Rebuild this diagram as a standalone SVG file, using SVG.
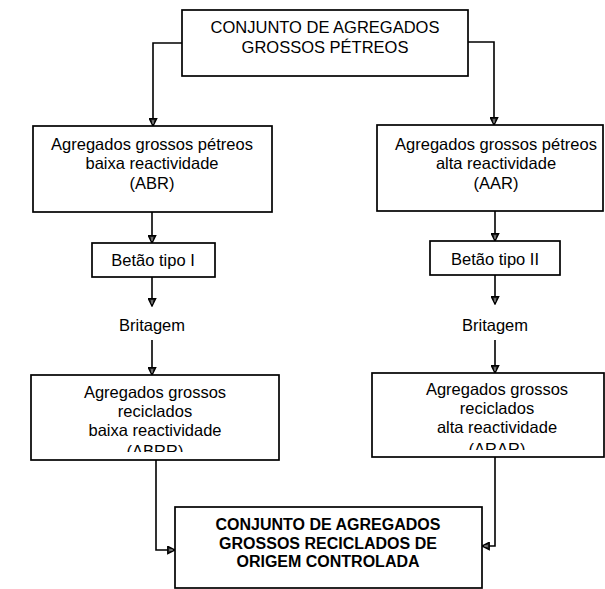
<svg xmlns="http://www.w3.org/2000/svg" width="605" height="589" viewBox="0 0 605 589">
<defs>
<style>
.box{fill:#fff;stroke:#000;stroke-width:1.7}
.t{font-family:"Liberation Sans",Arial,sans-serif;font-size:16.5px;fill:#000;text-anchor:middle}
.b{font-family:"Liberation Sans",Arial,sans-serif;font-size:16px;font-weight:bold;fill:#000;text-anchor:middle}
.c{fill:none;stroke:#000;stroke-width:1.6}
</style>
<marker id="ah" viewBox="0 0 10 10" refX="9" refY="5" markerWidth="9" markerHeight="9" markerUnits="userSpaceOnUse" orient="auto">
<path d="M1,1 L9,5 L1,9 Z" fill="#333" stroke="#000" stroke-width="1.6"/>
<path d="M2.5,5 L6.5,5" stroke="#bbb" stroke-width="1"/>
</marker>
<clipPath id="clipL"><rect x="31" y="375" width="248" height="77"/></clipPath>
<clipPath id="clipR"><rect x="372" y="373" width="232" height="77"/></clipPath>
</defs>
<rect width="605" height="589" fill="#fff"/>

<g id="connectors">
<path class="c" d="M182,43 H153 V126" marker-end="url(#ah)"/>
<path class="c" d="M468,42 H494 V125" marker-end="url(#ah)"/>
<path class="c" d="M152,212 V243" marker-end="url(#ah)"/>
<path class="c" d="M152,277 V306" marker-end="url(#ah)"/>
<path class="c" d="M152,340 V375" marker-end="url(#ah)"/>
<path class="c" d="M156,460 V550 H175" marker-end="url(#ah)"/>
<path class="c" d="M495,211 V241" marker-end="url(#ah)"/>
<path class="c" d="M495,275 V304" marker-end="url(#ah)"/>
<path class="c" d="M495,340 V373" marker-end="url(#ah)"/>
<path class="c" d="M495,457 V546 H482" marker-end="url(#ah)"/>
</g>

<g id="top">
<rect class="box" x="182" y="10" width="286" height="66"/>
<text class="t" x="325" y="33">CONJUNTO DE AGREGADOS</text>
<text class="t" x="325" y="53">GROSSOS PÉTREOS</text>
</g>

<g id="abr">
<rect class="box" x="33" y="126" width="239" height="86"/>
<text class="t" x="152" y="150">Agregados grossos pétreos</text>
<text class="t" x="152" y="169">baixa reactividade</text>
<text class="t" x="152" y="189">(ABR)</text>
</g>

<g id="aar">
<rect class="box" x="377" y="125" width="226" height="86"/>
<text class="t" x="496" y="150">Agregados grossos pétreos</text>
<text class="t" x="496" y="169">alta reactividade</text>
<text class="t" x="496" y="189">(AAR)</text>
</g>

<g id="betao1">
<rect class="box" x="92" y="243" width="123" height="34"/>
<text class="t" x="153" y="266">Betão tipo I</text>
</g>

<g id="betao2">
<rect class="box" x="430" y="241" width="130" height="34"/>
<text class="t" x="495" y="265">Betão tipo II</text>
</g>

<g id="britagem1">
<text class="t" x="152" y="331">Britagem</text>
</g>

<g id="britagem2">
<text class="t" x="495" y="331">Britagem</text>
</g>

<g id="abrr">
<rect class="box" x="31" y="375" width="248" height="85"/>
<g clip-path="url(#clipL)">
<text class="t" x="155" y="398">Agregados grossos</text>
<text class="t" x="155" y="417">reciclados</text>
<text class="t" x="155" y="436">baixa reactividade</text>
<text class="t" x="155" y="457">(ABRR)</text>
</g>
</g>

<g id="arar">
<rect class="box" x="372" y="373" width="232" height="84"/>
<g clip-path="url(#clipR)">
<text class="t" x="497" y="395">Agregados grossos</text>
<text class="t" x="497" y="414">reciclados</text>
<text class="t" x="497" y="433">alta reactividade</text>
<text class="t" x="497" y="455">(ARAR)</text>
</g>
</g>

<g id="final">
<rect class="box" x="175" y="507" width="307" height="81"/>
<text class="b" x="328" y="530">CONJUNTO DE AGREGADOS</text>
<text class="b" x="328" y="548.5">GROSSOS RECICLADOS DE</text>
<text class="b" x="328" y="567">ORIGEM CONTROLADA</text>
</g>
</svg>
